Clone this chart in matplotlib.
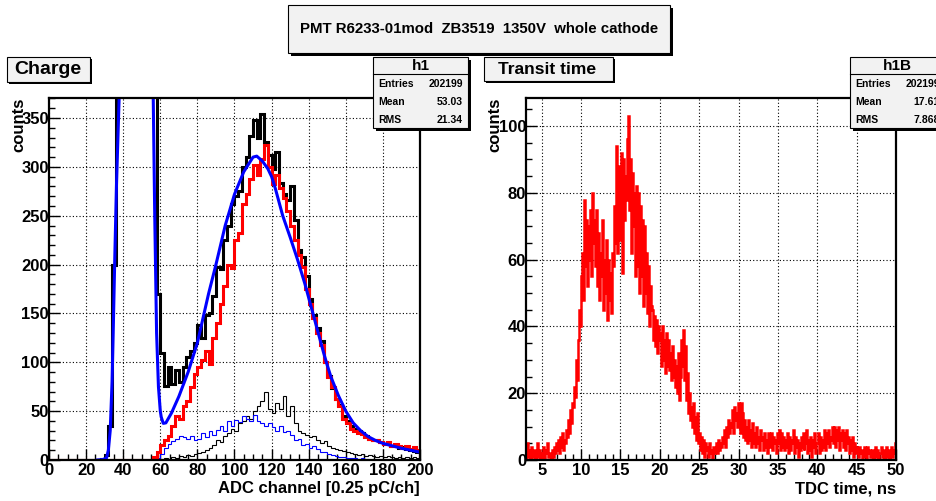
import numpy as np
import matplotlib
matplotlib.use("Agg")
import matplotlib.pyplot as plt
from matplotlib.patches import Rectangle
from matplotlib.lines import Line2D
from matplotlib.ticker import MultipleLocator

plt.rcParams['font.family'] = ['Liberation Sans', 'DejaVu Sans']
plt.rcParams['font.weight'] = 'bold'

# =============================
# DATA
# =============================
# charge spectrum, 2-channel bins 0..200
adc_edges = np.arange(0, 202, 2)

total_counts = [0] * 14 + [1, 5, 35, 200] + [3000] * 11 + [
    170, 110, 76, 95, 78, 92, 80, 95, 105, 112,
    120, 138, 125, 148, 150, 168, 198, 195, 225, 240,
    262, 270, 275, 300, 310, 332, 348, 330, 354, 325,
    312, 298, 315, 283, 272, 266, 280, 246, 215, 208,
    188, 165, 148, 135, 122, 100, 86, 74, 62, 56,
    45, 40, 35, 32, 30, 28, 25, 22, 20, 20,
    18, 16, 17, 14, 15, 12, 13, 11, 10, 9, 8]

signal_counts = [0] * 28 + [
    3, 8, 15, 20, 25, 35, 45, 42, 55, 60,
    75, 88, 95, 102, 112, 98, 125, 140, 160, 178,
    200, 196, 225, 232, 262, 272, 288, 302, 292, 308,
    322, 300, 282, 292, 278, 268, 255, 240, 225, 210,
    198, 175, 160, 145, 130, 118, 100, 85, 75, 62,
    55, 42, 38, 32, 30, 28, 27, 24, 22, 20,
    20, 18, 16, 18, 14, 16, 14, 12, 14, 11, 13, 10]

sub_black = [0] * 30 + [
    1, 2, 1, 3, 2, 4, 3, 5, 4, 6,
    7, 8, 10, 12, 15, 20, 18, 25, 28, 32,
    30, 38, 40, 45, 42, 50, 55, 60, 70, 52,
    48, 58, 52, 65, 45, 55, 38, 30, 28, 26,
    24, 25, 20, 17, 19, 14, 12, 11, 10, 9,
    8, 7, 6, 5, 6, 4, 5, 4, 3, 4,
    3, 4, 3, 2, 3, 2, 3, 2, 3, 2]

sub_blue = [0] * 29 + [
    2, 6, 12, 16, 19, 22, 25, 24, 22, 25,
    20, 22, 28, 24, 30, 26, 31, 35, 30, 40,
    35, 41, 39, 45, 42, 40, 46, 40, 38, 35,
    38, 34, 30, 35, 29, 30, 26, 20, 22, 15,
    16, 12, 14, 11, 8, 8, 6, 5, 4, 3,
    3, 2, 2, 2, 1, 2, 1] + [0] * 14

fit_ch = [26, 29, 31, 32, 33, 34, 34.6, 35.5, 36.4, 37.8, 38.5,
          55.5, 56.2, 57, 58, 59, 60, 60.5, 61.6, 63, 66, 70, 75, 80,
          83, 86, 90, 95, 100, 105, 110, 112, 115, 118, 120, 122, 124,
          126, 130, 134, 138, 140, 144, 148, 150, 152, 156, 160, 164,
          168, 172, 176, 180, 190, 200]
fit_val = [0, 0.5, 2, 10, 30, 80, 130, 210, 283, 370, 450,
           450, 370, 250, 130, 75, 50, 44, 37.5, 38, 48, 65, 90, 120,
           145, 170, 200, 240, 272, 295, 310, 311, 306, 298, 290, 278, 264,
           250, 228, 205, 180, 166, 138, 110, 97, 85, 66, 50, 38,
           30, 24, 20, 17, 12, 8]

# transit time, 0.125 ns bins 3..50 (one row per ns)
tdc_edges = np.arange(3, 50.001, 0.125)
tdc_counts = [
    2, 5, 1, 3, 0, 4, 2, 1,
    3, 0, 2, 5, 1, 3, 0, 2,
    1, 4, 0, 2, 3, 5, 1, 2,
    2, 0, 3, 1, 4, 2, 5, 3,
    3, 6, 2, 7, 4, 8, 3, 6,
    5, 9, 7, 12, 8, 15, 11, 17,
    16, 22, 19, 30, 24, 36, 45, 40,
    55, 62, 48, 78, 58, 72, 52, 70,
    60, 75, 55, 80, 65, 72, 58, 75,
    52, 68, 48, 62, 55, 72, 45, 60,
    50, 66, 42, 60, 48, 56, 44, 62,
    58, 76, 65, 94, 62, 88, 70, 85,
    66, 92, 56, 90, 72, 85, 78, 96,
    103, 75, 90, 62, 86, 70, 80, 55,
    82, 58, 80, 50, 76, 55, 72, 46,
    70, 50, 62, 44, 58, 40, 52, 46,
    45, 36, 43, 34, 42, 32, 40, 36,
    38, 28, 40, 30, 36, 26, 38, 28,
    36, 27, 32, 24, 34, 25, 30, 22,
    28, 20, 32, 18, 30, 25, 36, 28,
    39, 24, 34, 18, 26, 14, 20, 12,
    16, 10, 17, 8, 13, 6, 14, 5,
    8, 3, 7, 2, 6, 1, 5, 3,
    4, 1, 5, 2, 3, 0, 4, 2,
    3, 5, 2, 6, 3, 5, 4, 7,
    5, 9, 4, 10, 7, 12, 8, 11,
    10, 15, 8, 16, 12, 14, 10, 17,
    12, 8, 17, 9, 14, 7, 12, 6,
    10, 5, 12, 6, 9, 4, 11, 5,
    8, 4, 10, 5, 7, 3, 9, 6,
    7, 3, 8, 4, 6, 2, 8, 5,
    4, 8, 3, 7, 5, 6, 2, 8,
    5, 9, 3, 8, 4, 7, 3, 6,
    4, 8, 2, 7, 3, 6, 5, 9,
    2, 7, 4, 6, 1, 5, 3, 7,
    4, 8, 3, 6, 5, 9, 2, 6,
    3, 7, 1, 6, 4, 8, 2, 5,
    5, 8, 2, 7, 3, 6, 4, 9,
    3, 8, 5, 9, 4, 7, 6, 10,
    5, 10, 4, 9, 6, 10, 3, 8,
    6, 9, 4, 8, 3, 9, 5, 7,
    2, 6, 3, 7, 1, 5, 2, 4,
    3, 1, 4, 2, 3, 0, 2, 4,
    1, 3, 0, 4, 2, 3, 1, 2,
    3, 0, 2, 4, 1, 3, 0, 2,
    2, 4, 1, 3, 0, 2, 4, 1,
    3, 0, 2, 4, 1, 3, 2, 5]

title = "PMT R6233-01mod  ZB3519  1350V  whole cathode"
stats_h1 = [("Entries", "202199"), ("Mean", "53.03"), ("RMS", "21.34")]
stats_h1b = [("Entries", "202199"), ("Mean", "17.61"), ("RMS", "7.868")]

# =============================
# FIGURE
# =============================
W, H = 937, 501
fig = plt.figure(figsize=(W / 100, H / 100), dpi=100)
BOXCOL = "#f2f2f2"


def box(x0, y0, x1, y1, sh=3):
    # pixel coords from top-left, with ROOT style drop shadow
    fig.add_artist(Rectangle((x0 / W + sh / W, 1 - (y1 + sh) / H),
                             (x1 - x0) / W, (y1 - y0) / H,
                             transform=fig.transFigure, facecolor="black",
                             edgecolor="none", zorder=5))
    fig.add_artist(Rectangle((x0 / W, 1 - y1 / H), (x1 - x0) / W, (y1 - y0) / H,
                             transform=fig.transFigure, facecolor=BOXCOL,
                             edgecolor="black", lw=0.8, zorder=6))


def ftext(x, y, s, **kw):
    fig.text(x / W, 1 - y / H, s, zorder=7, **kw)


def stats_box(x0, name, rows):
    box(x0, 57, x0 + 95, 128)
    fig.add_artist(Line2D([x0 / W, (x0 + 95) / W], [1 - 74 / H, 1 - 74 / H],
                          transform=fig.transFigure, color="black", lw=0.8, zorder=7))
    ftext(x0 + 47.5, 66, name, ha="center", va="center", fontsize=11)
    for i, (k, v) in enumerate(rows):
        y = 84 + 18 * i
        ftext(x0 + 5, y, k, ha="left", va="center", fontsize=7.5)
        ftext(x0 + 90, y, v, ha="right", va="center", fontsize=7.5)


def style_axes(ax, xmaj, xmin, ymaj, ymin):
    ax.xaxis.set_major_locator(MultipleLocator(xmaj))
    ax.xaxis.set_minor_locator(MultipleLocator(xmin))
    ax.yaxis.set_major_locator(MultipleLocator(ymaj))
    ax.yaxis.set_minor_locator(MultipleLocator(ymin))
    ax.tick_params(which="both", direction="in", top=False, right=False, width=1)
    ax.tick_params(which="major", length=8, labelsize=12)
    ax.tick_params(which="minor", length=4)
    ax.tick_params(axis="y", pad=0)
    ax.tick_params(axis="x", pad=2)
    ax.grid(True, which="major", ls=(0, (1, 2)), color="black", lw=0.8)
    ax.set_axisbelow(True)
    for s in ax.spines.values():
        s.set_linewidth(1.6)


# ---- left: charge
ax1 = fig.add_axes([49 / W, 41 / H, 371 / W, 362 / H])
ax1.stairs(total_counts, adc_edges, color="black", lw=2.2)
ax1.stairs(sub_black, adc_edges, color="black", lw=0.8)
ax1.stairs(sub_blue, adc_edges, color="blue", lw=0.8)
ax1.stairs(signal_counts, adc_edges, color="red", lw=2.2)
ax1.plot(fit_ch, fit_val, color="blue", lw=2.2)
ax1.set_xlim(0, 200)
ax1.set_ylim(0, 370.5)
style_axes(ax1, 20, 5, 50, 10)
ax1.text(1.0, -0.08, "ADC channel [0.25 pC/ch]", transform=ax1.transAxes,
         ha="right", va="center", fontsize=12)
ax1.text(-0.082, 1.0, "counts", transform=ax1.transAxes, rotation=90,
         ha="center", va="top", fontsize=12)

# ---- right: transit time
ax2 = fig.add_axes([526 / W, 41 / H, 370 / W, 362 / H])
ax2.stairs(tdc_counts, tdc_edges, color="red", lw=1.8)
ax2.set_xlim(3, 50)
ax2.set_ylim(0, 108.4)
style_axes(ax2, 5, 1, 20, 5)
ax2.text(1.0, -0.08, "TDC time, ns", transform=ax2.transAxes,
         ha="right", va="center", fontsize=12)
ax2.text(-0.084, 1.0, "counts", transform=ax2.transAxes, rotation=90,
         ha="center", va="top", fontsize=12)

# ---- boxes
box(288, 5, 670, 53)
ftext(479, 29, title, ha="center", va="center", fontsize=10.8)

box(7, 57, 90, 82, sh=2)
ftext(14, 69.5, "Charge", ha="left", va="center", fontsize=14)

box(484, 57, 613, 81, sh=2)
ftext(498, 69, "Transit time", ha="left", va="center", fontsize=12.6)

stats_box(373, "h1", stats_h1)
stats_box(850, "h1B", stats_h1b)

fig.savefig("out.png", dpi=100)
